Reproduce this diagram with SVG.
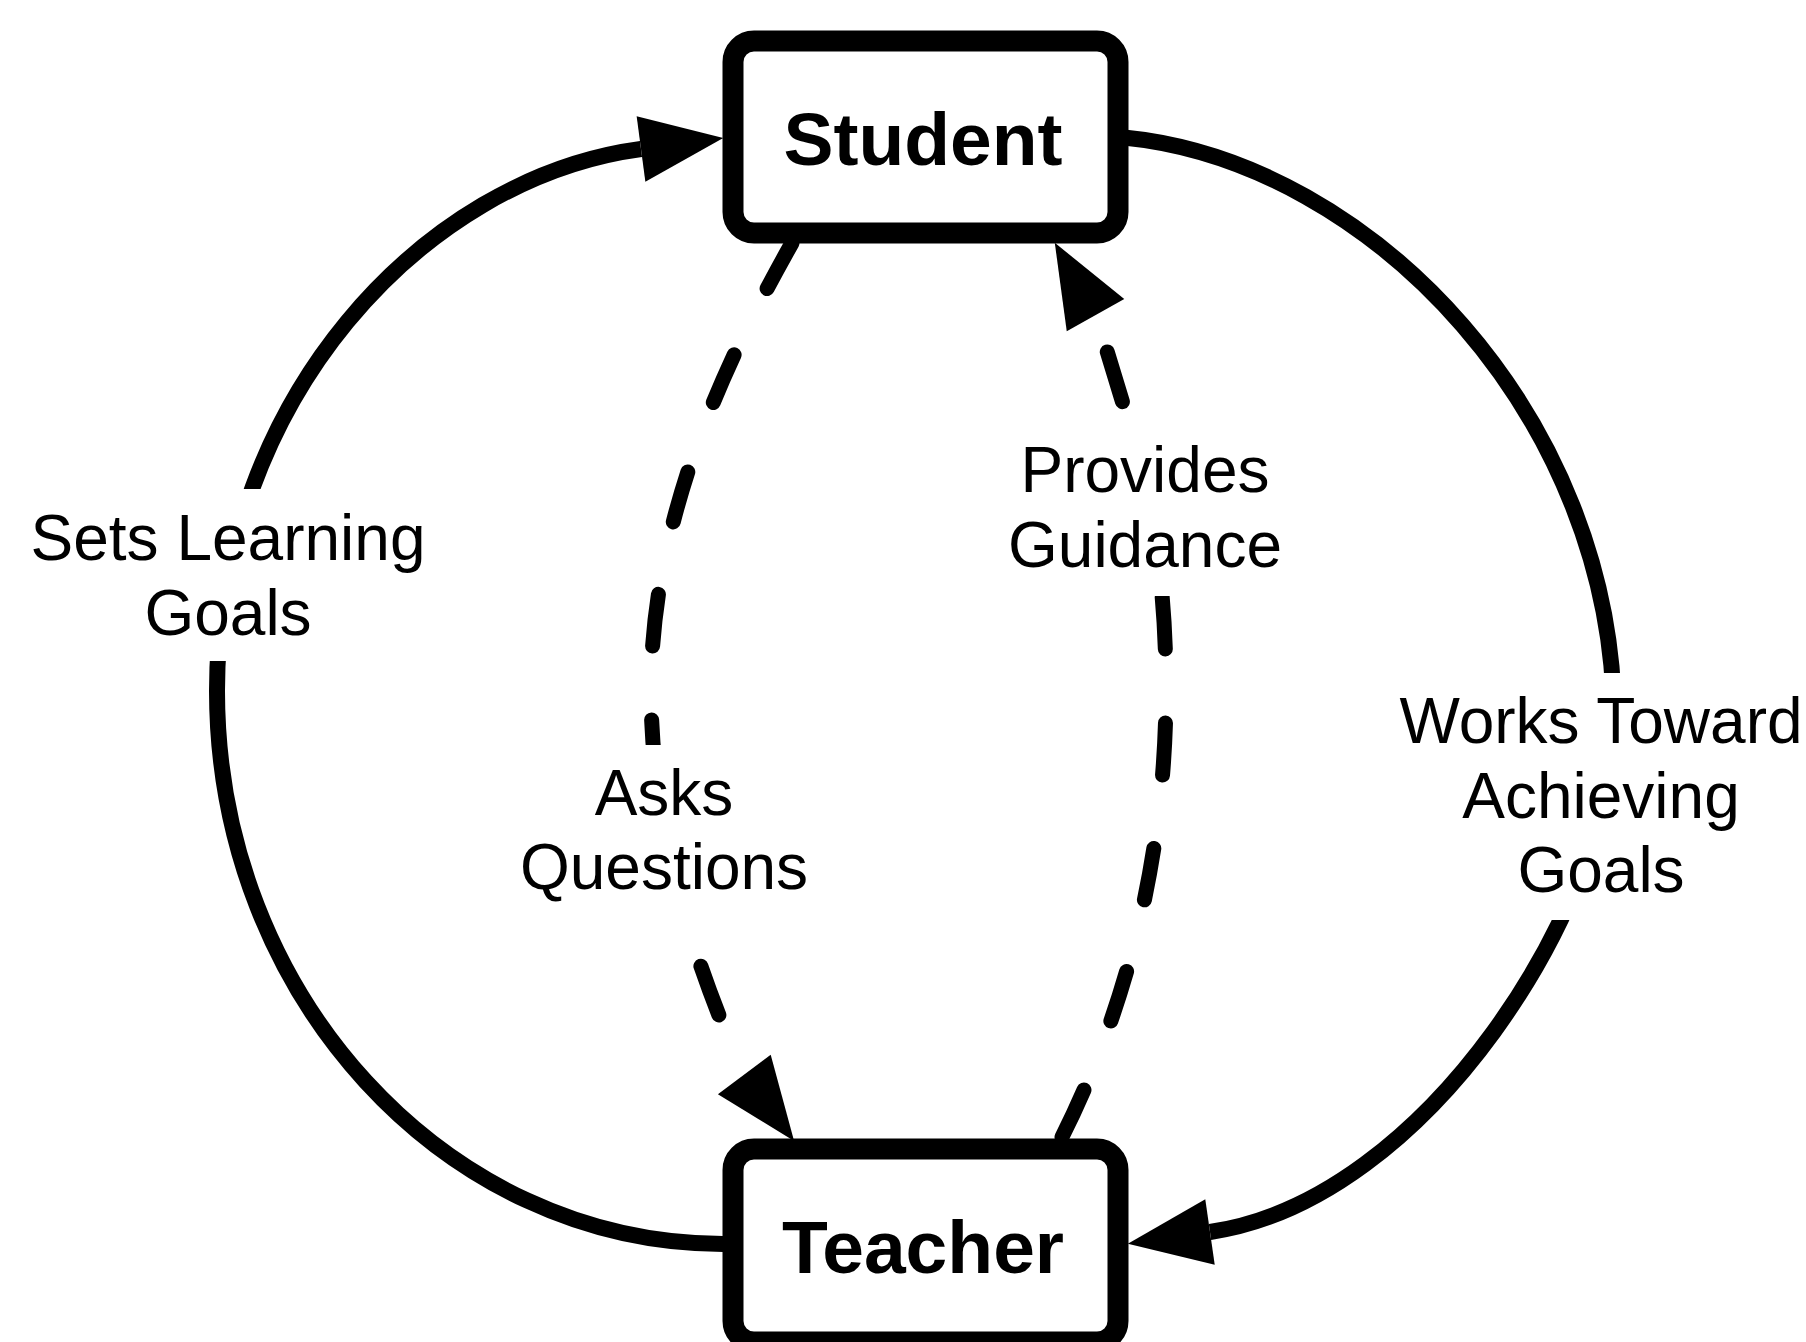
<svg xmlns="http://www.w3.org/2000/svg" width="1806" height="1342" viewBox="0 0 1806 1342">
<style>
.node rect{fill:#fff;stroke:#000;stroke-width:21}
.node text{font-family:"Liberation Sans",Arial,sans-serif;font-weight:bold;font-size:75px;text-anchor:middle;fill:#000}
.edge{fill:none;stroke:#000}
.solid{stroke-width:16;marker-end:url(#ah)}
.dashed{stroke-width:15;stroke-dasharray:52 74;stroke-linecap:round;marker-end:url(#ah)}
.lbl rect{fill:#fff;stroke:none}
.lbl text{font-family:"Liberation Sans",Arial,sans-serif;font-size:64px;text-anchor:middle;fill:#000}
</style>
<defs>
<marker id="ah" markerUnits="userSpaceOnUse" markerWidth="90" markerHeight="70" viewBox="0 -35 90 70" refX="0" refY="0" orient="auto" overflow="visible">
<path d="M0,-33 L83,0 L0,33 z" fill="#000"/>
</marker>
</defs>
<rect width="1806" height="1342" fill="#fff"/>
<g id="connectors">
<path id="e-sets" class="edge solid" d="M723,1244 C445,1244 217,995 217,691 C217,400 423,178 641,149"/>
<path id="e-works" class="edge solid" d="M1124,137.5 C1374,162 1614,420 1614,720 C1614,900 1428,1200.5 1210,1232"/>
<path id="e-asks" class="edge dashed" d="M792,243 C733,348 651,510 651,690 C651,810 682.2,937.2 743.7,1073.7 l0.6,0.8"/>
<path id="e-provides" class="edge dashed" d="M1062,1137 C1120,1021 1166,870 1166,690 C1166,540 1141,459 1096,316 l-0.49,-0.87"/>
</g>
<g id="labels">
<g id="l-sets" class="lbl">
<rect x="25" y="489" width="405" height="172"/>
<text x="228" y="560">Sets Learning</text>
<text x="228" y="635">Goals</text>
</g>
<g id="l-asks" class="lbl">
<rect x="512" y="745" width="304" height="171"/>
<text x="664" y="815">Asks</text>
<text x="664" y="889">Questions</text>
</g>
<g id="l-provides" class="lbl">
<rect x="1002" y="420" width="287" height="176"/>
<text x="1145" y="492">Provides</text>
<text x="1145" y="567">Guidance</text>
</g>
<g id="l-works" class="lbl">
<rect x="1395" y="673" width="411" height="247"/>
<text x="1601" y="743">Works Toward</text>
<text x="1601" y="818">Achieving</text>
<text x="1601" y="892">Goals</text>
</g>
</g>
<g id="student" class="node">
<rect x="733" y="41" width="385" height="192" rx="21" ry="21"/>
<text x="923" y="165">Student</text>
</g>
<g id="teacher" class="node">
<rect x="733" y="1149" width="385" height="193" rx="21" ry="21"/>
<text x="923" y="1273">Teacher</text>
</g>
</svg>
